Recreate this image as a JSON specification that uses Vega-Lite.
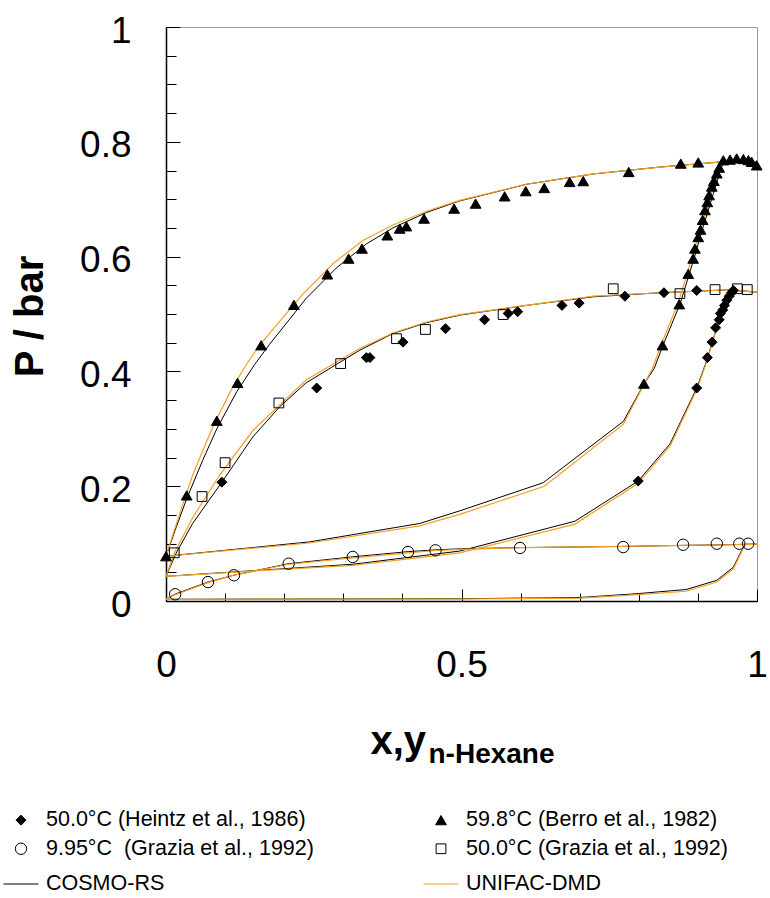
{
  "$schema": "https://vega.github.io/schema/vega-lite/v6.json",
  "width": 591,
  "height": 574,
  "autosize": {"type": "none"},
  "padding": {"left": 166, "top": 27, "right": 13, "bottom": 297},
  "background": "white",
  "config": {
    "font": "Liberation Sans",
    "view": {"stroke": "#9a9a9a", "strokeWidth": 1},
    "axis": {"grid": false, "domainColor": "black", "tickColor": "black", "labelColor": "black", "titleColor": "black", "labelFont": "Liberation Sans", "titleFont": "Liberation Sans", "zindex": 1},
    "legend": {
      "orient": "none", "legendX": -163, "legendY": 782, "direction": "horizontal", "columns": 2,
      "columnPadding": 107, "rowPadding": 6, "labelFont": "Liberation Sans", "labelFontSize": 21.5,
      "labelColor": "black", "labelOffset": 7, "symbolStrokeWidth": 1, "labelLimit": 0
    }
  },
  "datasets": {
    "points": [
      {"series": "50.0°C (Heintz et al., 1986)", "x": 0.0945, "P": 0.207},
      {"series": "50.0°C (Heintz et al., 1986)", "x": 0.255, "P": 0.371},
      {"series": "50.0°C (Heintz et al., 1986)", "x": 0.339, "P": 0.424},
      {"series": "50.0°C (Heintz et al., 1986)", "x": 0.345, "P": 0.424},
      {"series": "50.0°C (Heintz et al., 1986)", "x": 0.401, "P": 0.451},
      {"series": "50.0°C (Heintz et al., 1986)", "x": 0.473, "P": 0.4745},
      {"series": "50.0°C (Heintz et al., 1986)", "x": 0.539, "P": 0.49},
      {"series": "50.0°C (Heintz et al., 1986)", "x": 0.579, "P": 0.501},
      {"series": "50.0°C (Heintz et al., 1986)", "x": 0.595, "P": 0.504},
      {"series": "50.0°C (Heintz et al., 1986)", "x": 0.67, "P": 0.515},
      {"series": "50.0°C (Heintz et al., 1986)", "x": 0.699, "P": 0.519},
      {"series": "50.0°C (Heintz et al., 1986)", "x": 0.7765, "P": 0.531},
      {"series": "50.0°C (Heintz et al., 1986)", "x": 0.8425, "P": 0.537},
      {"series": "50.0°C (Heintz et al., 1986)", "x": 0.898, "P": 0.541},
      {"series": "50.0°C (Heintz et al., 1986)", "x": 0.799, "P": 0.209},
      {"series": "50.0°C (Heintz et al., 1986)", "x": 0.898, "P": 0.371},
      {"series": "50.0°C (Heintz et al., 1986)", "x": 0.916, "P": 0.424},
      {"series": "50.0°C (Heintz et al., 1986)", "x": 0.924, "P": 0.451},
      {"series": "50.0°C (Heintz et al., 1986)", "x": 0.93, "P": 0.476},
      {"series": "50.0°C (Heintz et al., 1986)", "x": 0.936, "P": 0.49},
      {"series": "50.0°C (Heintz et al., 1986)", "x": 0.938, "P": 0.501},
      {"series": "50.0°C (Heintz et al., 1986)", "x": 0.942, "P": 0.507},
      {"series": "50.0°C (Heintz et al., 1986)", "x": 0.945, "P": 0.515},
      {"series": "50.0°C (Heintz et al., 1986)", "x": 0.949, "P": 0.524},
      {"series": "50.0°C (Heintz et al., 1986)", "x": 0.953, "P": 0.531},
      {"series": "50.0°C (Heintz et al., 1986)", "x": 0.957, "P": 0.537},
      {"series": "50.0°C (Heintz et al., 1986)", "x": 0.96, "P": 0.541},
      {"series": "59.8°C (Berro et al., 1982)", "x": 0.0, "P": 0.078},
      {"series": "59.8°C (Berro et al., 1982)", "x": 0.035, "P": 0.184},
      {"series": "59.8°C (Berro et al., 1982)", "x": 0.086, "P": 0.314},
      {"series": "59.8°C (Berro et al., 1982)", "x": 0.121, "P": 0.38},
      {"series": "59.8°C (Berro et al., 1982)", "x": 0.161, "P": 0.4455},
      {"series": "59.8°C (Berro et al., 1982)", "x": 0.2165, "P": 0.516},
      {"series": "59.8°C (Berro et al., 1982)", "x": 0.273, "P": 0.569},
      {"series": "59.8°C (Berro et al., 1982)", "x": 0.309, "P": 0.5965},
      {"series": "59.8°C (Berro et al., 1982)", "x": 0.3316, "P": 0.614},
      {"series": "59.8°C (Berro et al., 1982)", "x": 0.3745, "P": 0.637},
      {"series": "59.8°C (Berro et al., 1982)", "x": 0.3954, "P": 0.6488},
      {"series": "59.8°C (Berro et al., 1982)", "x": 0.4067, "P": 0.6528},
      {"series": "59.8°C (Berro et al., 1982)", "x": 0.4366, "P": 0.6662},
      {"series": "59.8°C (Berro et al., 1982)", "x": 0.4875, "P": 0.6836},
      {"series": "59.8°C (Berro et al., 1982)", "x": 0.524, "P": 0.6923},
      {"series": "59.8°C (Berro et al., 1982)", "x": 0.573, "P": 0.705},
      {"series": "59.8°C (Berro et al., 1982)", "x": 0.6087, "P": 0.714},
      {"series": "59.8°C (Berro et al., 1982)", "x": 0.64, "P": 0.7195},
      {"series": "59.8°C (Berro et al., 1982)", "x": 0.683, "P": 0.73},
      {"series": "59.8°C (Berro et al., 1982)", "x": 0.706, "P": 0.7315},
      {"series": "59.8°C (Berro et al., 1982)", "x": 0.783, "P": 0.7474},
      {"series": "59.8°C (Berro et al., 1982)", "x": 0.871, "P": 0.762},
      {"series": "59.8°C (Berro et al., 1982)", "x": 0.9006, "P": 0.764},
      {"series": "59.8°C (Berro et al., 1982)", "x": 0.943, "P": 0.7678},
      {"series": "59.8°C (Berro et al., 1982)", "x": 0.9543, "P": 0.769},
      {"series": "59.8°C (Berro et al., 1982)", "x": 0.9656, "P": 0.771},
      {"series": "59.8°C (Berro et al., 1982)", "x": 0.977, "P": 0.77},
      {"series": "59.8°C (Berro et al., 1982)", "x": 0.9855, "P": 0.768},
      {"series": "59.8°C (Berro et al., 1982)", "x": 0.991, "P": 0.765},
      {"series": "59.8°C (Berro et al., 1982)", "x": 0.9995, "P": 0.759},
      {"series": "59.8°C (Berro et al., 1982)", "x": 0.8086, "P": 0.3787},
      {"series": "59.8°C (Berro et al., 1982)", "x": 0.84, "P": 0.4455},
      {"series": "59.8°C (Berro et al., 1982)", "x": 0.8685, "P": 0.517},
      {"series": "59.8°C (Berro et al., 1982)", "x": 0.8837, "P": 0.57},
      {"series": "59.8°C (Berro et al., 1982)", "x": 0.892, "P": 0.5965},
      {"series": "59.8°C (Berro et al., 1982)", "x": 0.895, "P": 0.614},
      {"series": "59.8°C (Berro et al., 1982)", "x": 0.9006, "P": 0.634},
      {"series": "59.8°C (Berro et al., 1982)", "x": 0.9045, "P": 0.647},
      {"series": "59.8°C (Berro et al., 1982)", "x": 0.908, "P": 0.664},
      {"series": "59.8°C (Berro et al., 1982)", "x": 0.912, "P": 0.681},
      {"series": "59.8°C (Berro et al., 1982)", "x": 0.916, "P": 0.695},
      {"series": "59.8°C (Berro et al., 1982)", "x": 0.919, "P": 0.707},
      {"series": "59.8°C (Berro et al., 1982)", "x": 0.9235, "P": 0.722},
      {"series": "59.8°C (Berro et al., 1982)", "x": 0.927, "P": 0.732},
      {"series": "59.8°C (Berro et al., 1982)", "x": 0.932, "P": 0.745},
      {"series": "59.8°C (Berro et al., 1982)", "x": 0.936, "P": 0.755},
      {"series": "9.95°C\u00a0 (Grazia et al., 1992)", "x": 0.0155, "P": 0.0117},
      {"series": "9.95°C\u00a0 (Grazia et al., 1992)", "x": 0.071, "P": 0.033},
      {"series": "9.95°C\u00a0 (Grazia et al., 1992)", "x": 0.115, "P": 0.0448},
      {"series": "9.95°C\u00a0 (Grazia et al., 1992)", "x": 0.2075, "P": 0.065},
      {"series": "9.95°C\u00a0 (Grazia et al., 1992)", "x": 0.316, "P": 0.0767},
      {"series": "9.95°C\u00a0 (Grazia et al., 1992)", "x": 0.4095, "P": 0.0854},
      {"series": "9.95°C\u00a0 (Grazia et al., 1992)", "x": 0.456, "P": 0.0883},
      {"series": "9.95°C\u00a0 (Grazia et al., 1992)", "x": 0.599, "P": 0.0924},
      {"series": "9.95°C\u00a0 (Grazia et al., 1992)", "x": 0.7736, "P": 0.094},
      {"series": "9.95°C\u00a0 (Grazia et al., 1992)", "x": 0.875, "P": 0.098},
      {"series": "9.95°C\u00a0 (Grazia et al., 1992)", "x": 0.932, "P": 0.0998},
      {"series": "9.95°C\u00a0 (Grazia et al., 1992)", "x": 0.97, "P": 0.0998},
      {"series": "9.95°C\u00a0 (Grazia et al., 1992)", "x": 0.985, "P": 0.0998},
      {"series": "50.0°C (Grazia et al., 1992)", "x": 0.014, "P": 0.084},
      {"series": "50.0°C (Grazia et al., 1992)", "x": 0.061, "P": 0.182},
      {"series": "50.0°C (Grazia et al., 1992)", "x": 0.1, "P": 0.241},
      {"series": "50.0°C (Grazia et al., 1992)", "x": 0.191, "P": 0.345},
      {"series": "50.0°C (Grazia et al., 1992)", "x": 0.2955, "P": 0.4136},
      {"series": "50.0°C (Grazia et al., 1992)", "x": 0.39, "P": 0.457},
      {"series": "50.0°C (Grazia et al., 1992)", "x": 0.439, "P": 0.473},
      {"series": "50.0°C (Grazia et al., 1992)", "x": 0.5704, "P": 0.499},
      {"series": "50.0°C (Grazia et al., 1992)", "x": 0.7567, "P": 0.544},
      {"series": "50.0°C (Grazia et al., 1992)", "x": 0.8696, "P": 0.5355},
      {"series": "50.0°C (Grazia et al., 1992)", "x": 0.929, "P": 0.5425},
      {"series": "50.0°C (Grazia et al., 1992)", "x": 0.9667, "P": 0.544},
      {"series": "50.0°C (Grazia et al., 1992)", "x": 0.9836, "P": 0.5425}
    ],
    "lines": [
      {"series": "COSMO-RS", "curve": "b60", "x": 0, "P": 0.078},
      {"series": "COSMO-RS", "curve": "b60", "x": 0.017, "P": 0.128},
      {"series": "COSMO-RS", "curve": "b60", "x": 0.035, "P": 0.178},
      {"series": "COSMO-RS", "curve": "b60", "x": 0.062, "P": 0.245},
      {"series": "COSMO-RS", "curve": "b60", "x": 0.086, "P": 0.3},
      {"series": "COSMO-RS", "curve": "b60", "x": 0.12, "P": 0.365},
      {"series": "COSMO-RS", "curve": "b60", "x": 0.15, "P": 0.412},
      {"series": "COSMO-RS", "curve": "b60", "x": 0.175, "P": 0.447},
      {"series": "COSMO-RS", "curve": "b60", "x": 0.2, "P": 0.479},
      {"series": "COSMO-RS", "curve": "b60", "x": 0.237, "P": 0.527},
      {"series": "COSMO-RS", "curve": "b60", "x": 0.288, "P": 0.58},
      {"series": "COSMO-RS", "curve": "b60", "x": 0.339, "P": 0.622},
      {"series": "COSMO-RS", "curve": "b60", "x": 0.384, "P": 0.65},
      {"series": "COSMO-RS", "curve": "b60", "x": 0.441, "P": 0.677},
      {"series": "COSMO-RS", "curve": "b60", "x": 0.497, "P": 0.697},
      {"series": "COSMO-RS", "curve": "b60", "x": 0.61, "P": 0.726},
      {"series": "COSMO-RS", "curve": "b60", "x": 0.723, "P": 0.744},
      {"series": "COSMO-RS", "curve": "b60", "x": 0.836, "P": 0.756},
      {"series": "COSMO-RS", "curve": "b60", "x": 0.94, "P": 0.765},
      {"series": "COSMO-RS", "curve": "b60", "x": 0.97, "P": 0.766},
      {"series": "COSMO-RS", "curve": "b60", "x": 1.0, "P": 0.765},
      {"series": "UNIFAC-DMD", "curve": "b60", "x": 0, "P": 0.078},
      {"series": "UNIFAC-DMD", "curve": "b60", "x": 0.012, "P": 0.117},
      {"series": "UNIFAC-DMD", "curve": "b60", "x": 0.045, "P": 0.219},
      {"series": "UNIFAC-DMD", "curve": "b60", "x": 0.079, "P": 0.303},
      {"series": "UNIFAC-DMD", "curve": "b60", "x": 0.113, "P": 0.373},
      {"series": "UNIFAC-DMD", "curve": "b60", "x": 0.136, "P": 0.412},
      {"series": "UNIFAC-DMD", "curve": "b60", "x": 0.158, "P": 0.445},
      {"series": "UNIFAC-DMD", "curve": "b60", "x": 0.184, "P": 0.477},
      {"series": "UNIFAC-DMD", "curve": "b60", "x": 0.232, "P": 0.535},
      {"series": "UNIFAC-DMD", "curve": "b60", "x": 0.283, "P": 0.588},
      {"series": "UNIFAC-DMD", "curve": "b60", "x": 0.333, "P": 0.628},
      {"series": "UNIFAC-DMD", "curve": "b60", "x": 0.384, "P": 0.655},
      {"series": "UNIFAC-DMD", "curve": "b60", "x": 0.441, "P": 0.679},
      {"series": "UNIFAC-DMD", "curve": "b60", "x": 0.497, "P": 0.698},
      {"series": "UNIFAC-DMD", "curve": "b60", "x": 0.61, "P": 0.726},
      {"series": "UNIFAC-DMD", "curve": "b60", "x": 0.723, "P": 0.744},
      {"series": "UNIFAC-DMD", "curve": "b60", "x": 0.836, "P": 0.756},
      {"series": "UNIFAC-DMD", "curve": "b60", "x": 0.94, "P": 0.765},
      {"series": "UNIFAC-DMD", "curve": "b60", "x": 0.97, "P": 0.766},
      {"series": "UNIFAC-DMD", "curve": "b60", "x": 1.0, "P": 0.765},
      {"series": "COSMO-RS", "curve": "d60", "x": 0, "P": 0.078},
      {"series": "COSMO-RS", "curve": "d60", "x": 0.243, "P": 0.103},
      {"series": "COSMO-RS", "curve": "d60", "x": 0.429, "P": 0.135},
      {"series": "COSMO-RS", "curve": "d60", "x": 0.497, "P": 0.157},
      {"series": "COSMO-RS", "curve": "d60", "x": 0.638, "P": 0.206},
      {"series": "COSMO-RS", "curve": "d60", "x": 0.774, "P": 0.313},
      {"series": "COSMO-RS", "curve": "d60", "x": 0.8075, "P": 0.376},
      {"series": "COSMO-RS", "curve": "d60", "x": 0.826, "P": 0.405},
      {"series": "COSMO-RS", "curve": "d60", "x": 0.841, "P": 0.4455},
      {"series": "COSMO-RS", "curve": "d60", "x": 0.87, "P": 0.518},
      {"series": "COSMO-RS", "curve": "d60", "x": 0.8925, "P": 0.5935},
      {"series": "COSMO-RS", "curve": "d60", "x": 0.909, "P": 0.652},
      {"series": "COSMO-RS", "curve": "d60", "x": 0.926, "P": 0.7095},
      {"series": "COSMO-RS", "curve": "d60", "x": 0.94, "P": 0.756},
      {"series": "COSMO-RS", "curve": "d60", "x": 0.945, "P": 0.765},
      {"series": "COSMO-RS", "curve": "d60", "x": 0.97, "P": 0.766},
      {"series": "COSMO-RS", "curve": "d60", "x": 1.0, "P": 0.765},
      {"series": "UNIFAC-DMD", "curve": "d60", "x": 0, "P": 0.078},
      {"series": "UNIFAC-DMD", "curve": "d60", "x": 0.243, "P": 0.101},
      {"series": "UNIFAC-DMD", "curve": "d60", "x": 0.429, "P": 0.131},
      {"series": "UNIFAC-DMD", "curve": "d60", "x": 0.497, "P": 0.151},
      {"series": "UNIFAC-DMD", "curve": "d60", "x": 0.64, "P": 0.2},
      {"series": "UNIFAC-DMD", "curve": "d60", "x": 0.774, "P": 0.308},
      {"series": "UNIFAC-DMD", "curve": "d60", "x": 0.806, "P": 0.372},
      {"series": "UNIFAC-DMD", "curve": "d60", "x": 0.823, "P": 0.405},
      {"series": "UNIFAC-DMD", "curve": "d60", "x": 0.838, "P": 0.447},
      {"series": "UNIFAC-DMD", "curve": "d60", "x": 0.867, "P": 0.52},
      {"series": "UNIFAC-DMD", "curve": "d60", "x": 0.889, "P": 0.595},
      {"series": "UNIFAC-DMD", "curve": "d60", "x": 0.906, "P": 0.652},
      {"series": "UNIFAC-DMD", "curve": "d60", "x": 0.923, "P": 0.71},
      {"series": "UNIFAC-DMD", "curve": "d60", "x": 0.937, "P": 0.756},
      {"series": "UNIFAC-DMD", "curve": "d60", "x": 0.945, "P": 0.765},
      {"series": "UNIFAC-DMD", "curve": "d60", "x": 0.97, "P": 0.766},
      {"series": "UNIFAC-DMD", "curve": "d60", "x": 1.0, "P": 0.765},
      {"series": "COSMO-RS", "curve": "b50", "x": 0, "P": 0.043},
      {"series": "COSMO-RS", "curve": "b50", "x": 0.017, "P": 0.083},
      {"series": "COSMO-RS", "curve": "b50", "x": 0.045, "P": 0.135},
      {"series": "COSMO-RS", "curve": "b50", "x": 0.0945, "P": 0.207},
      {"series": "COSMO-RS", "curve": "b50", "x": 0.147, "P": 0.286},
      {"series": "COSMO-RS", "curve": "b50", "x": 0.192, "P": 0.338},
      {"series": "COSMO-RS", "curve": "b50", "x": 0.237, "P": 0.38},
      {"series": "COSMO-RS", "curve": "b50", "x": 0.288, "P": 0.412},
      {"series": "COSMO-RS", "curve": "b50", "x": 0.328, "P": 0.437},
      {"series": "COSMO-RS", "curve": "b50", "x": 0.384, "P": 0.466},
      {"series": "COSMO-RS", "curve": "b50", "x": 0.441, "P": 0.485},
      {"series": "COSMO-RS", "curve": "b50", "x": 0.497, "P": 0.498},
      {"series": "COSMO-RS", "curve": "b50", "x": 0.61, "P": 0.515},
      {"series": "COSMO-RS", "curve": "b50", "x": 0.723, "P": 0.53},
      {"series": "COSMO-RS", "curve": "b50", "x": 0.836, "P": 0.537},
      {"series": "COSMO-RS", "curve": "b50", "x": 0.949, "P": 0.542},
      {"series": "COSMO-RS", "curve": "b50", "x": 1.0, "P": 0.538},
      {"series": "UNIFAC-DMD", "curve": "b50", "x": 0, "P": 0.043},
      {"series": "UNIFAC-DMD", "curve": "b50", "x": 0.015, "P": 0.085},
      {"series": "UNIFAC-DMD", "curve": "b50", "x": 0.045, "P": 0.145},
      {"series": "UNIFAC-DMD", "curve": "b50", "x": 0.0906, "P": 0.219},
      {"series": "UNIFAC-DMD", "curve": "b50", "x": 0.147, "P": 0.297},
      {"series": "UNIFAC-DMD", "curve": "b50", "x": 0.198, "P": 0.347},
      {"series": "UNIFAC-DMD", "curve": "b50", "x": 0.237, "P": 0.385},
      {"series": "UNIFAC-DMD", "curve": "b50", "x": 0.288, "P": 0.416},
      {"series": "UNIFAC-DMD", "curve": "b50", "x": 0.328, "P": 0.44},
      {"series": "UNIFAC-DMD", "curve": "b50", "x": 0.384, "P": 0.467},
      {"series": "UNIFAC-DMD", "curve": "b50", "x": 0.441, "P": 0.486},
      {"series": "UNIFAC-DMD", "curve": "b50", "x": 0.497, "P": 0.499},
      {"series": "UNIFAC-DMD", "curve": "b50", "x": 0.61, "P": 0.515},
      {"series": "UNIFAC-DMD", "curve": "b50", "x": 0.723, "P": 0.531},
      {"series": "UNIFAC-DMD", "curve": "b50", "x": 0.836, "P": 0.537},
      {"series": "UNIFAC-DMD", "curve": "b50", "x": 0.949, "P": 0.542},
      {"series": "UNIFAC-DMD", "curve": "b50", "x": 1.0, "P": 0.538},
      {"series": "COSMO-RS", "curve": "d50", "x": 0, "P": 0.043},
      {"series": "COSMO-RS", "curve": "d50", "x": 0.158, "P": 0.0535},
      {"series": "COSMO-RS", "curve": "d50", "x": 0.316, "P": 0.064},
      {"series": "COSMO-RS", "curve": "d50", "x": 0.497, "P": 0.087},
      {"series": "COSMO-RS", "curve": "d50", "x": 0.692, "P": 0.139},
      {"series": "COSMO-RS", "curve": "d50", "x": 0.799, "P": 0.209},
      {"series": "COSMO-RS", "curve": "d50", "x": 0.853, "P": 0.274},
      {"series": "COSMO-RS", "curve": "d50", "x": 0.898, "P": 0.371},
      {"series": "COSMO-RS", "curve": "d50", "x": 0.915, "P": 0.419},
      {"series": "COSMO-RS", "curve": "d50", "x": 0.932, "P": 0.477},
      {"series": "COSMO-RS", "curve": "d50", "x": 0.943, "P": 0.512},
      {"series": "COSMO-RS", "curve": "d50", "x": 0.96, "P": 0.542},
      {"series": "COSMO-RS", "curve": "d50", "x": 1.0, "P": 0.538},
      {"series": "UNIFAC-DMD", "curve": "d50", "x": 0, "P": 0.043},
      {"series": "UNIFAC-DMD", "curve": "d50", "x": 0.158, "P": 0.053},
      {"series": "UNIFAC-DMD", "curve": "d50", "x": 0.316, "P": 0.062},
      {"series": "UNIFAC-DMD", "curve": "d50", "x": 0.497, "P": 0.084},
      {"series": "UNIFAC-DMD", "curve": "d50", "x": 0.692, "P": 0.134},
      {"series": "UNIFAC-DMD", "curve": "d50", "x": 0.799, "P": 0.205},
      {"series": "UNIFAC-DMD", "curve": "d50", "x": 0.853, "P": 0.27},
      {"series": "UNIFAC-DMD", "curve": "d50", "x": 0.898, "P": 0.368},
      {"series": "UNIFAC-DMD", "curve": "d50", "x": 0.915, "P": 0.417},
      {"series": "UNIFAC-DMD", "curve": "d50", "x": 0.932, "P": 0.476},
      {"series": "UNIFAC-DMD", "curve": "d50", "x": 0.943, "P": 0.511},
      {"series": "UNIFAC-DMD", "curve": "d50", "x": 0.96, "P": 0.542},
      {"series": "UNIFAC-DMD", "curve": "d50", "x": 1.0, "P": 0.538},
      {"series": "COSMO-RS", "curve": "b10", "x": 0, "P": 0.003},
      {"series": "COSMO-RS", "curve": "b10", "x": 0.0155, "P": 0.012},
      {"series": "COSMO-RS", "curve": "b10", "x": 0.071, "P": 0.033},
      {"series": "COSMO-RS", "curve": "b10", "x": 0.115, "P": 0.045},
      {"series": "COSMO-RS", "curve": "b10", "x": 0.2075, "P": 0.065},
      {"series": "COSMO-RS", "curve": "b10", "x": 0.316, "P": 0.077},
      {"series": "COSMO-RS", "curve": "b10", "x": 0.41, "P": 0.086},
      {"series": "COSMO-RS", "curve": "b10", "x": 0.456, "P": 0.089},
      {"series": "COSMO-RS", "curve": "b10", "x": 0.5, "P": 0.091},
      {"series": "COSMO-RS", "curve": "b10", "x": 0.6, "P": 0.093},
      {"series": "COSMO-RS", "curve": "b10", "x": 0.77, "P": 0.095},
      {"series": "COSMO-RS", "curve": "b10", "x": 0.88, "P": 0.097},
      {"series": "COSMO-RS", "curve": "b10", "x": 0.95, "P": 0.098},
      {"series": "COSMO-RS", "curve": "b10", "x": 0.98, "P": 0.0988},
      {"series": "COSMO-RS", "curve": "b10", "x": 1.0, "P": 0.0988},
      {"series": "UNIFAC-DMD", "curve": "b10", "x": 0, "P": 0.003},
      {"series": "UNIFAC-DMD", "curve": "b10", "x": 0.0155, "P": 0.011},
      {"series": "UNIFAC-DMD", "curve": "b10", "x": 0.071, "P": 0.032},
      {"series": "UNIFAC-DMD", "curve": "b10", "x": 0.115, "P": 0.045},
      {"series": "UNIFAC-DMD", "curve": "b10", "x": 0.2075, "P": 0.064},
      {"series": "UNIFAC-DMD", "curve": "b10", "x": 0.316, "P": 0.075},
      {"series": "UNIFAC-DMD", "curve": "b10", "x": 0.41, "P": 0.084},
      {"series": "UNIFAC-DMD", "curve": "b10", "x": 0.456, "P": 0.088},
      {"series": "UNIFAC-DMD", "curve": "b10", "x": 0.5, "P": 0.09},
      {"series": "UNIFAC-DMD", "curve": "b10", "x": 0.6, "P": 0.093},
      {"series": "UNIFAC-DMD", "curve": "b10", "x": 0.77, "P": 0.095},
      {"series": "UNIFAC-DMD", "curve": "b10", "x": 0.88, "P": 0.097},
      {"series": "UNIFAC-DMD", "curve": "b10", "x": 0.95, "P": 0.098},
      {"series": "UNIFAC-DMD", "curve": "b10", "x": 0.98, "P": 0.0988},
      {"series": "UNIFAC-DMD", "curve": "b10", "x": 1.0, "P": 0.0988},
      {"series": "COSMO-RS", "curve": "d10", "x": 0, "P": 0.003},
      {"series": "COSMO-RS", "curve": "d10", "x": 0.5, "P": 0.004},
      {"series": "COSMO-RS", "curve": "d10", "x": 0.7, "P": 0.006},
      {"series": "COSMO-RS", "curve": "d10", "x": 0.8, "P": 0.013},
      {"series": "COSMO-RS", "curve": "d10", "x": 0.88, "P": 0.02},
      {"series": "COSMO-RS", "curve": "d10", "x": 0.932, "P": 0.036},
      {"series": "COSMO-RS", "curve": "d10", "x": 0.96, "P": 0.059},
      {"series": "COSMO-RS", "curve": "d10", "x": 0.977, "P": 0.094},
      {"series": "COSMO-RS", "curve": "d10", "x": 0.98, "P": 0.0988},
      {"series": "COSMO-RS", "curve": "d10", "x": 1.0, "P": 0.0988},
      {"series": "UNIFAC-DMD", "curve": "d10", "x": 0, "P": 0.003},
      {"series": "UNIFAC-DMD", "curve": "d10", "x": 0.5, "P": 0.0035},
      {"series": "UNIFAC-DMD", "curve": "d10", "x": 0.7, "P": 0.005},
      {"series": "UNIFAC-DMD", "curve": "d10", "x": 0.8, "P": 0.011},
      {"series": "UNIFAC-DMD", "curve": "d10", "x": 0.88, "P": 0.017},
      {"series": "UNIFAC-DMD", "curve": "d10", "x": 0.932, "P": 0.033},
      {"series": "UNIFAC-DMD", "curve": "d10", "x": 0.96, "P": 0.056},
      {"series": "UNIFAC-DMD", "curve": "d10", "x": 0.977, "P": 0.092},
      {"series": "UNIFAC-DMD", "curve": "d10", "x": 0.98, "P": 0.0988},
      {"series": "UNIFAC-DMD", "curve": "d10", "x": 1.0, "P": 0.0988}
    ]
  },
  "resolve": {"axis": {"x": "independent", "y": "independent"}},
  "layer": [
    {
      "data": {"name": "lines"},
      "transform": [{"filter": "datum.series === 'COSMO-RS'"}],
      "mark": {"type": "line", "strokeWidth": 1},
      "encoding": {
        "x": {"field": "x", "type": "quantitative", "scale": {"domain": [0, 1], "nice": false, "zero": false},
          "axis": {"orient": "top", "offset": -574, "values": [0, 0.1, 0.2, 0.3, 0.4, 0.5, 0.6, 0.7, 0.8, 0.9, 1],
            "labels": false, "ticks": true, "tickSize": 8, "domain": false, "title": "n-Hexane",
            "titleFontSize": 28, "titleFontWeight": "bold", "titleX": 262, "titleY": 161, "titleAlign": "left", "titleBaseline": "alphabetic", "titleAngle": 0}},
        "y": {"field": "P", "type": "quantitative", "scale": {"domain": [0, 1], "nice": false},
          "axis": {"orient": "right", "offset": -591, "values": [0, 0.05, 0.1, 0.15, 0.2, 0.25, 0.3, 0.35, 0.4, 0.45, 0.5, 0.55, 0.6, 0.65, 0.7, 0.75, 0.8, 0.85, 0.9, 0.95, 1],
            "labels": false, "ticks": true, "tickSize": 10, "domain": false, "title": null}},
        "stroke": {"field": "series", "type": "nominal",
          "scale": {"domain": ["50.0°C (Heintz et al., 1986)", "59.8°C (Berro et al., 1982)", "9.95°C\u00a0 (Grazia et al., 1992)", "50.0°C (Grazia et al., 1992)", "COSMO-RS", "UNIFAC-DMD"],
            "range": ["black", "black", "black", "black", "black", "#f4a020"]},
          "legend": {"title": null}},
        "detail": {"field": "curve", "type": "nominal"}
      }
    },
    {
      "data": {"name": "lines"},
      "transform": [{"filter": "datum.series === 'UNIFAC-DMD'"}],
      "mark": {"type": "line", "strokeWidth": 1.2},
      "encoding": {
        "x": {"field": "x", "type": "quantitative", "scale": {"domain": [0, 1], "nice": false, "zero": false},
          "axis": {"orient": "top", "offset": -574, "values": [0, 0.5, 1], "labels": false, "ticks": true, "tickSize": 12, "domain": false, "title": null}},
        "y": {"field": "P", "type": "quantitative", "scale": {"domain": [0, 1], "nice": false},
          "axis": {"orient": "right", "offset": -591, "values": [0, 0.2, 0.4, 0.6, 0.8, 1], "labels": false, "ticks": true, "tickSize": 14, "domain": false, "title": null}},
        "stroke": {"field": "series", "type": "nominal",
          "scale": {"domain": ["50.0°C (Heintz et al., 1986)", "59.8°C (Berro et al., 1982)", "9.95°C\u00a0 (Grazia et al., 1992)", "50.0°C (Grazia et al., 1992)", "COSMO-RS", "UNIFAC-DMD"],
            "range": ["black", "black", "black", "black", "black", "#f4a020"]},
          "legend": {"title": null}},
        "detail": {"field": "curve", "type": "nominal"}
      }
    },
    {
      "data": {"name": "points"},
      "mark": {"type": "point", "strokeWidth": 1, "opacity": 1},
      "encoding": {
        "x": {"field": "x", "type": "quantitative", "scale": {"domain": [0, 1], "nice": false, "zero": false},
          "axis": {"orient": "bottom", "values": [0, 0.5, 1],
            "labelExpr": "datum.value == 0 ? '0' : datum.value == 0.5 ? '0.5' : '1'",
            "ticks": false,
            "labelFontSize": 37, "labelPadding": 46, "labelBaseline": "top", "labelFlush": false, "labelOverlap": false, "labelBound": false,
            "domainWidth": 1.5, "title": "x,y", "titleFontSize": 40, "titleFontWeight": "bold", "titleX": 204, "titleY": 152.6, "titleAlign": "left", "titleBaseline": "alphabetic"}},
        "y": {"field": "P", "type": "quantitative", "scale": {"domain": [0, 1], "nice": false},
          "axis": {"orient": "left", "values": [0, 0.2, 0.4, 0.6, 0.8, 1],
            "labelExpr": "datum.value == 0 ? '0' : datum.value == 1 ? '1' : format(datum.value, '.1f')",
            "ticks": false,
            "labelFontSize": 37, "labelPadding": 35, "labelAlign": "right", "labelBaseline": "middle", "labelOffset": 4, "labelOverlap": false, "labelBound": false, "labelFlush": false,
            "domainWidth": 1.5, "title": "P / bar", "titleFontSize": 40, "titleFontWeight": "bold", "titleAngle": -90, "titleX": -123.5, "titleY": 289, "titleAlign": "center", "titleBaseline": "alphabetic"}},
        "shape": {"field": "series", "type": "nominal",
          "scale": {"domain": ["50.0°C (Heintz et al., 1986)", "59.8°C (Berro et al., 1982)", "9.95°C\u00a0 (Grazia et al., 1992)", "50.0°C (Grazia et al., 1992)", "COSMO-RS", "UNIFAC-DMD"],
            "range": ["diamond", "triangle-up", "circle", "square", "stroke", "stroke"]},
          "legend": {"title": null}},
        "fill": {"field": "series", "type": "nominal",
          "scale": {"domain": ["50.0°C (Heintz et al., 1986)", "59.8°C (Berro et al., 1982)", "9.95°C\u00a0 (Grazia et al., 1992)", "50.0°C (Grazia et al., 1992)", "COSMO-RS", "UNIFAC-DMD"],
            "range": ["black", "black", "transparent", "transparent", "transparent", "transparent"]},
          "legend": {"title": null}},
        "stroke": {"field": "series", "type": "nominal",
          "scale": {"domain": ["50.0°C (Heintz et al., 1986)", "59.8°C (Berro et al., 1982)", "9.95°C\u00a0 (Grazia et al., 1992)", "50.0°C (Grazia et al., 1992)", "COSMO-RS", "UNIFAC-DMD"],
            "range": ["black", "black", "black", "black", "black", "#f4a020"]},
          "legend": {"title": null}},
        "size": {"field": "series", "type": "nominal",
          "scale": {"type": "ordinal", "domain": ["50.0°C (Heintz et al., 1986)", "59.8°C (Berro et al., 1982)", "9.95°C\u00a0 (Grazia et al., 1992)", "50.0°C (Grazia et al., 1992)", "COSMO-RS", "UNIFAC-DMD"],
            "range": [100, 115, 130, 95, 1225, 1225]},
          "legend": {"title": null}}
      }
    }
  ]
}
